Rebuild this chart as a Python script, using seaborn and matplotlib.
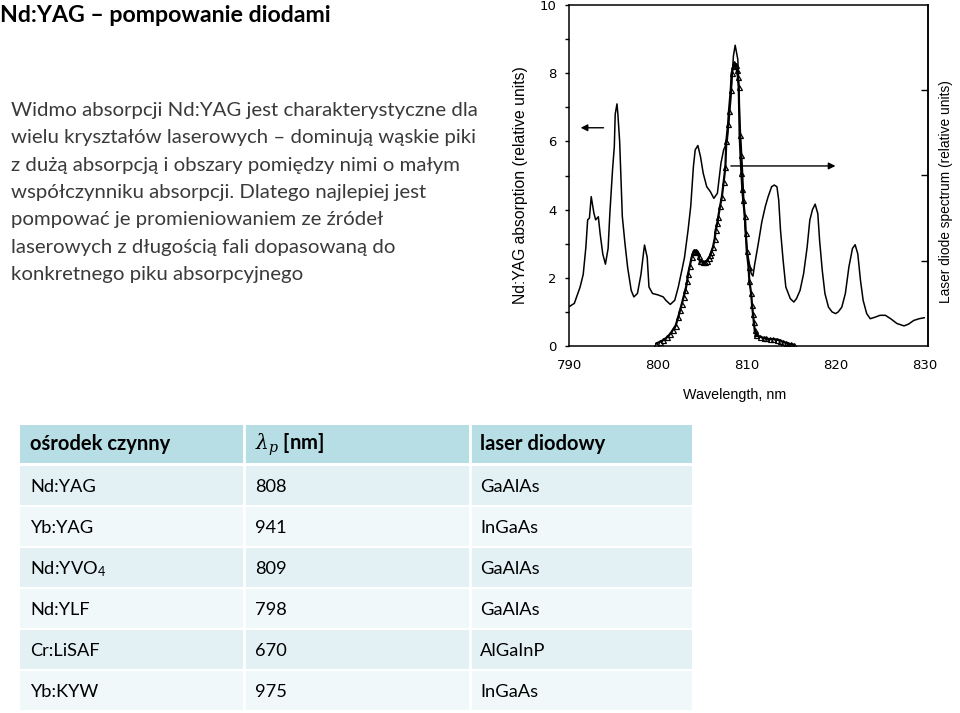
import matplotlib
matplotlib.use("Agg")
import matplotlib.pyplot as plt
import seaborn as sns
from matplotlib.patches import Rectangle

# ---------------- data ----------------
abs_wl = [790.0, 790.6, 791.25, 791.6, 791.9, 792.1, 792.3, 792.5, 792.8, 793.0, 793.3, 793.5,
          793.8, 794.1, 794.4, 794.6, 794.9, 795.1, 795.2, 795.4, 795.5, 795.7, 796.0, 796.3,
          796.6, 797.0, 797.3, 797.7, 798.1, 798.4, 798.5, 798.8, 799.0, 799.4, 800.0, 800.6,
          800.9, 801.4, 801.9, 802.3, 802.7, 803.0, 803.4, 803.7, 804.0, 804.2, 804.5, 804.8,
          805.1, 805.5, 805.9, 806.3, 806.7, 807.1, 807.4, 807.8, 808.2, 808.5, 808.7, 809.0,
          809.2, 809.5, 809.8, 810.1, 810.5, 810.7, 810.9, 811.3, 811.7, 812.1, 812.4, 812.8,
          813.1, 813.4, 813.6, 813.8, 814.1, 814.4, 814.9, 815.3, 815.6, 816.0, 816.4, 816.8,
          817.1, 817.4, 817.7, 818.0, 818.2, 818.5, 818.8, 819.2, 819.6, 820.0, 820.3, 820.7,
          821.1, 821.5, 821.9, 822.2, 822.5, 822.8, 823.1, 823.5, 823.9, 824.5, 825.0, 825.6,
          826.2, 826.9, 827.7, 828.2, 828.8, 829.4, 830.0]
abs_val = [1.15, 1.25, 1.73, 2.1, 2.9, 3.7, 3.75, 4.38, 3.9, 3.7, 3.79, 3.3,
           2.7, 2.4, 2.86, 3.9, 5.17, 5.85, 6.8, 7.1, 6.8, 6.0, 3.8, 3.0,
           2.3, 1.63, 1.44, 1.54, 2.1, 2.76, 2.96, 2.6, 1.73, 1.54, 1.5, 1.44,
           1.34, 1.22, 1.34, 1.73, 2.22, 2.6, 3.4, 4.1, 5.26, 5.75, 5.88, 5.55,
           5.07, 4.67, 4.53, 4.33, 4.48, 5.36, 5.75, 6.0, 7.2, 8.5, 8.82, 8.4,
           6.73, 5.26, 3.5, 2.7, 2.13, 2.05, 2.4, 3.0, 3.64, 4.1, 4.37, 4.67,
           4.72, 4.67, 4.28, 3.4, 2.5, 1.73, 1.39, 1.29, 1.39, 1.63, 2.12, 2.9,
           3.69, 4.0, 4.16, 3.88, 3.1, 2.22, 1.54, 1.14, 1.0, 0.95, 1.0, 1.14,
           1.54, 2.32, 2.86, 2.97, 2.7, 1.93, 1.34, 0.95, 0.8, 0.85, 0.9, 0.9,
           0.8, 0.66, 0.59, 0.64, 0.75, 0.8, 0.83]

laser_wl = [799.8, 800.2, 800.6, 801.0, 801.4, 801.7, 802.0, 802.3, 802.5, 802.7, 802.9, 803.1,
            803.3, 803.4, 803.6, 803.8, 804.0, 804.1, 804.3, 804.4, 804.6, 804.7, 804.9, 805.1,
            805.3, 805.5, 805.7, 805.9, 806.0, 806.2, 806.4, 806.5, 806.7, 806.8, 807.0, 807.2,
            807.4, 807.6, 807.7, 807.9, 808.0, 808.2, 808.3, 808.5, 808.6, 808.8, 808.9, 809.0,
            809.1, 809.2, 809.3, 809.4, 809.5, 809.6, 809.8, 809.9, 810.0, 810.2, 810.3, 810.5,
            810.6, 810.7, 810.8, 810.9, 811.0, 811.1, 811.5, 811.9, 812.2, 812.6, 813.0, 813.4,
            813.8, 814.1, 814.4, 814.7, 815.0, 815.3]
laser_val = [0.07, 0.12, 0.17, 0.25, 0.36, 0.48, 0.6, 0.85, 1.05, 1.24, 1.45, 1.63,
             1.9, 2.12, 2.35, 2.6, 2.75, 2.8, 2.8, 2.76, 2.65, 2.5, 2.48, 2.46,
             2.47, 2.5, 2.58, 2.66, 2.75, 2.9, 3.15, 3.4, 3.6, 3.79, 4.1, 4.37,
             4.8, 5.25, 6.0, 6.5, 6.9, 7.5, 8.0, 8.2, 8.3, 8.25, 8.1, 7.9,
             7.6, 6.2, 5.6, 5.06, 4.6, 4.28, 3.8, 3.3, 2.8, 2.32, 1.9, 1.54,
             1.2, 0.95, 0.7, 0.46, 0.38, 0.31, 0.27, 0.24, 0.22, 0.2, 0.2, 0.19,
             0.16, 0.12, 0.1, 0.07, 0.05, 0.04]

x_ticks = [790, 800, 810, 820, 830]
y_ticks = [0, 2, 4, 6, 8, 10]

title = "Nd:YAG – pompowanie diodami"
para_lines = [
    "Widmo absorpcji Nd:YAG jest charakterystyczne dla",
    "wielu kryształów laserowych – dominują wąskie piki",
    "z dużą absorpcją i obszary pomiędzy nimi o małym",
    "współczynniku absorpcji. Dlatego najlepiej jest",
    "pompować je promieniowaniem ze źródeł",
    "laserowych z długością fali dopasowaną do",
    "konkretnego piku absorpcyjnego",
]
table_header = ["ośrodek czynny", r"$\lambda_p$ [nm]", "laser diodowy"]
media = ["Nd:YAG", "Yb:YAG", r"Nd:YVO$\mathregular{_4}$", "Nd:YLF", "Cr:LiSAF", "Yb:KYW"]
pump_wl = [808, 941, 809, 798, 670, 975]
diodes = ["GaAlAs", "InGaAs", "GaAlAs", "GaAlAs", "AlGaInP", "InGaAs"]

# ---------------- figure ----------------
sns.set_style("white")
plt.rcParams["font.family"] = ["Lato", "DejaVu Sans"]
plt.rcParams["mathtext.fontset"] = "dejavuserif"

W, H = 960, 713
fig = plt.figure(figsize=(W / 100, H / 100), dpi=100)
fig.patch.set_facecolor("white")

bg = fig.add_axes([0, 0, 1, 1], zorder=0)
bg.set_xlim(0, W)
bg.set_ylim(H, 0)
bg.axis("off")

renderer = fig.canvas.get_renderer()


def fit(t, target_w):
    bb = t.get_window_extent(renderer)
    t.set_fontsize(t.get_fontsize() * target_w / bb.width)
    return t.get_fontsize()


t = bg.text(0, 22, title, fontsize=18, fontweight="bold", color="black",
            va="baseline", ha="left")
fit(t, 332)

baselines = [116, 143.3, 170.6, 197.9, 225.2, 252.5, 279.8]
t0 = bg.text(11, baselines[0], para_lines[0], fontsize=14, color="#3a3a3a",
             va="baseline", ha="left")
fs = fit(t0, 467)
for line, yb in zip(para_lines[1:], baselines[1:]):
    bg.text(11, yb, line, fontsize=fs, color="#3a3a3a", va="baseline", ha="left")

# table
col_x = [20, 245, 471, 692]
head_c = "#b7dde5"
row_c = ["#e3f1f4", "#f1f8fa"]
bg.add_patch(Rectangle((20, 425), 672, 38, facecolor=head_c, edgecolor="none"))
row_tops = [466, 507, 548, 589, 630, 671]
for i, top in enumerate(row_tops):
    bg.add_patch(Rectangle((20, top), 672, 39, facecolor=row_c[i % 2], edgecolor="none"))
for cx in col_x[1:3]:
    bg.plot([cx - 1, cx - 1], [425, 710], color="white", lw=2)

text_x = [30, 255, 480]
th = bg.text(text_x[0], 450, table_header[0], fontsize=14, fontweight="bold",
             va="baseline", ha="left", color="black")
hfs = fit(th, 141)
bg.text(text_x[1], 450, table_header[1], fontsize=hfs, fontweight="bold",
        va="baseline", ha="left", color="black")
bg.text(text_x[2], 450, table_header[2], fontsize=hfs, fontweight="bold",
        va="baseline", ha="left", color="black")
tr = bg.text(text_x[0], 492, media[0], fontsize=14, va="baseline", ha="left", color="black")
rfs = fit(tr, 66)
row_base = [492, 533, 574, 615, 656, 697]
for i, yb in enumerate(row_base):
    if i > 0:
        bg.text(text_x[0], yb, media[i], fontsize=rfs, va="baseline", ha="left", color="black")
    bg.text(text_x[1], yb, str(pump_wl[i]), fontsize=rfs, va="baseline", ha="left", color="black")
    bg.text(text_x[2], yb, diodes[i], fontsize=rfs, va="baseline", ha="left", color="black")

# ---------------- chart ----------------
ax = fig.add_axes([569 / W, (H - 346) / H, (928 - 569) / W, (346 - 5) / H], zorder=2)
ax.set_facecolor("none")
sns.lineplot(x=abs_wl, y=abs_val, ax=ax, color="black", lw=1.1,
             estimator=None, sort=False)
sns.lineplot(x=laser_wl, y=laser_val, ax=ax, color="black", lw=1.6,
             estimator=None, sort=False, marker="^", markersize=3.6,
             markerfacecolor="none", markeredgecolor="black", markeredgewidth=0.9)
ax.set_xlim(790, 830.4)
ax.set_ylim(0, 10)
ax.set_xticks(x_ticks)
ax.set_xticks([795, 805, 815, 825], minor=True)
ax.set_yticks(y_ticks)
ax.set_yticks([1, 3, 5, 7, 9], minor=True)
ax.set_xticklabels([str(v) for v in x_ticks], fontfamily="DejaVu Sans", fontsize=9.5)
ax.set_yticklabels([str(v) for v in y_ticks], fontfamily="DejaVu Sans", fontsize=9.5)
ax.tick_params(axis="both", which="both", direction="out", length=3, width=1,
               color="black", pad=6, labelcolor="black")
for s in ax.spines.values():
    s.set_color("black")
    s.set_linewidth(1.1)
    s.set_visible(True)
ax.set_xlabel("")
ax.set_ylabel("")

# arrows
ax.annotate("", xy=(791.0, 6.4), xytext=(794.2, 6.4),
            arrowprops=dict(arrowstyle="-|>", color="black", lw=1.0, mutation_scale=10))
ax.annotate("", xy=(820.3, 5.28), xytext=(807.9, 5.28),
            arrowprops=dict(arrowstyle="-|>", color="black", lw=1.0, mutation_scale=10))

# right axis
ax2 = ax.twinx()
ax2.set_ylim(0, 4)
ax2.set_yticks([1, 2, 3])
ax2.set_yticklabels([])
ax2.tick_params(axis="y", direction="in", length=5, width=1, color="black")
for s in ax2.spines.values():
    s.set_visible(False)
ax2.spines["right"].set_visible(True)
ax2.spines["right"].set_color("black")
ax2.spines["right"].set_linewidth(1.1)

lab_font = ["Liberation Sans", "DejaVu Sans"]
yl = bg.text(521, 185, "Nd:YAG absorption (relative units)", rotation=90, ha="center",
             va="center", fontsize=10, fontfamily=lab_font, color="black")
bbw = yl.get_window_extent(renderer).height
yl.set_fontsize(10 * 238 / bbw)
yr = bg.text(946, 192, "Laser diode spectrum (relative units)", rotation=90, ha="center",
             va="center", fontsize=10, fontfamily=lab_font, color="black")
bbw = yr.get_window_extent(renderer).height
yr.set_fontsize(10 * 224 / bbw)
bg.text(735, 395, "Wavelength, nm", ha="center", va="center", fontsize=10.3,
        fontfamily=lab_font, color="black")

fig.savefig("out.png", dpi=100, facecolor="white")
